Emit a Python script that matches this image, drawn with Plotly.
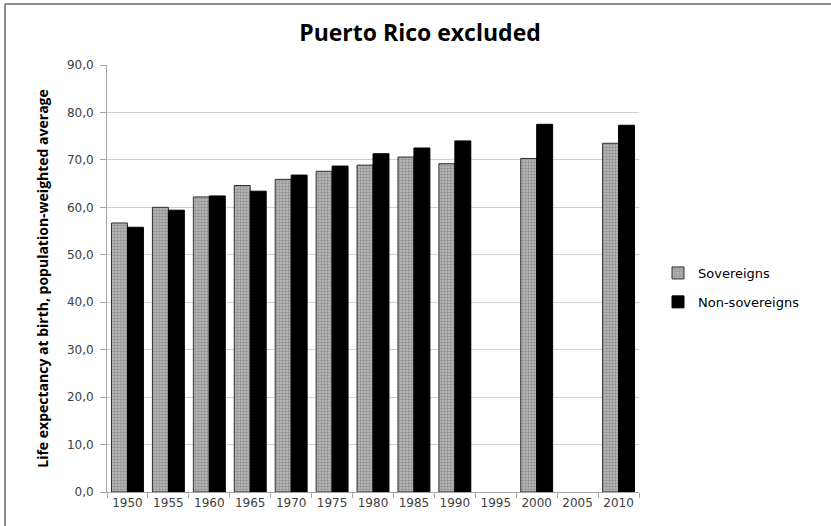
import plotly.graph_objects as go

years = ["1950", "1955", "1960", "1965", "1970", "1975", "1980", "1985", "1990", "1995", "2000", "2005", "2010"]
sovereigns = [56.7, 60.0, 62.2, 64.6, 65.9, 67.6, 68.9, 70.6, 69.2, None, 70.3, None, 73.5]
non_sovereigns = [55.8, 59.4, 62.4, 63.4, 66.8, 68.7, 71.3, 72.5, 74.0, None, 77.5, None, 77.3]
y_ticks = [0, 10, 20, 30, 40, 50, 60, 70, 80, 90]
y_tick_labels = ["0,0", "10,0", "20,0", "30,0", "40,0", "50,0", "60,0", "70,0", "80,0", "90,0"]

W, H = 831, 526
L, R, T, B = 107, 192, 65, 34
pw, ph = W - L - R, H - T - B

fig = go.Figure()
fig.add_trace(go.Bar(
    x=years, y=sovereigns, name="Sovereigns", legendgroup="s",
    marker=dict(color="#a8a8a8",
                line=dict(color="#303030", width=1),
                pattern=dict(shape=".", fgcolor="#6a6a6a", bgcolor="#bcbcbc", size=3, solidity=0.5)),
))
fig.add_trace(go.Bar(
    x=years, y=non_sovereigns, name="Non-sovereigns", legendgroup="n",
    marker=dict(color="#000000", line=dict(color="#000000", width=1)),
))

tick_font = dict(family="DejaVu Sans", size=12, color="#404040")

fig.update_layout(
    width=W, height=H,
    margin=dict(l=L, r=R, t=T, b=B, autoexpand=False),
    paper_bgcolor="white", plot_bgcolor="white",
    barmode="group", bargap=0.22, bargroupgap=0.0,
    title=dict(text="<b>Puerto Rico excluded</b>", x=420 / W, xanchor="center",
               y=1 - 33 / H, yanchor="middle",
               font=dict(family="Open Sans", size=23, color="#000000")),
    legend=dict(x=(658 - L) / pw, y=(H - B - 258) / ph,
                xanchor="left", yanchor="top",
                font=dict(family="DejaVu Sans", size=13, color="#000000"),
                bgcolor="rgba(0,0,0,0)", tracegroupgap=9, itemwidth=30),
    showlegend=True,
    font=dict(family="DejaVu Sans"),
    xaxis=dict(type="category", categoryorder="array", categoryarray=years,
               showline=True, linecolor="#a6a6a6", linewidth=1,
               ticks="outside", ticklen=5, tickcolor="#a6a6a6", tickson="boundaries",
               tickfont=tick_font, showgrid=False, fixedrange=True),
    yaxis=dict(range=[0, 90], tickvals=y_ticks, ticktext=y_tick_labels,
               showline=True, linecolor="#a6a6a6", linewidth=1,
               ticks="outside", ticklen=6, tickcolor="#a6a6a6",
               showgrid=True, gridcolor="#d0d0d0", gridwidth=1, zeroline=False,
               tickfont=tick_font, ticklabelstandoff=4,
               title=dict(text="<b>Life expectancy at birth, population-weighted average</b>",
                          font=dict(family="Open Sans", size=14, color="#000000"), standoff=14)),
)

# outer chart frame (top and left edges visible)
fig.add_shape(type="line", xref="paper", yref="paper",
              x0=(5 - L) / pw, x1=(W + 5 - L) / pw, y0=(H - B - 4) / ph, y1=(H - B - 4) / ph,
              line=dict(color="#8c8c8c", width=2))
fig.add_shape(type="line", xref="paper", yref="paper",
              x0=(5 - L) / pw, x1=(5 - L) / pw, y0=(H - B - 4) / ph, y1=-(B + 5) / ph,
              line=dict(color="#8c8c8c", width=2))

fig.write_html("out.html")
